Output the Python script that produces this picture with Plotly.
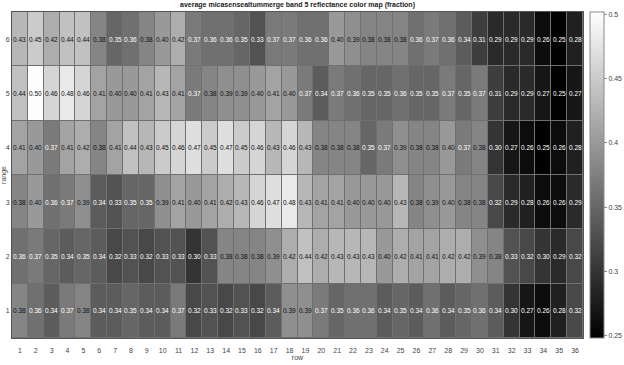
import plotly.graph_objects as go

cols = list(range(1, 37))
ranges = [1, 2, 3, 4, 5, 6]

range1 = [0.38, 0.36, 0.34, 0.37, 0.38, 0.34, 0.34, 0.35, 0.34, 0.34, 0.37, 0.32, 0.33, 0.32, 0.33, 0.32, 0.34, 0.39,
          0.39, 0.37, 0.35, 0.36, 0.36, 0.34, 0.35, 0.34, 0.36, 0.34, 0.35, 0.36, 0.34, 0.30, 0.27, 0.26, 0.28, 0.32]
range2 = [0.36, 0.37, 0.35, 0.34, 0.35, 0.34, 0.32, 0.33, 0.32, 0.33, 0.33, 0.30, 0.33, 0.38, 0.38, 0.38, 0.39, 0.42,
          0.44, 0.42, 0.43, 0.43, 0.43, 0.40, 0.42, 0.41, 0.41, 0.42, 0.42, 0.39, 0.38, 0.33, 0.32, 0.30, 0.29, 0.32]
range3 = [0.38, 0.40, 0.36, 0.37, 0.39, 0.34, 0.33, 0.35, 0.35, 0.39, 0.41, 0.40, 0.41, 0.42, 0.43, 0.46, 0.47, 0.48,
          0.43, 0.41, 0.41, 0.40, 0.40, 0.40, 0.43, 0.38, 0.39, 0.40, 0.38, 0.38, 0.32, 0.29, 0.28, 0.26, 0.26, 0.29]
range4 = [0.41, 0.40, 0.37, 0.41, 0.42, 0.38, 0.41, 0.44, 0.43, 0.45, 0.46, 0.47, 0.45, 0.47, 0.45, 0.46, 0.43, 0.46,
          0.43, 0.38, 0.38, 0.38, 0.35, 0.37, 0.39, 0.38, 0.38, 0.40, 0.37, 0.38, 0.30, 0.27, 0.26, 0.25, 0.26, 0.28]
range5 = [0.44, 0.50, 0.46, 0.48, 0.46, 0.41, 0.40, 0.40, 0.41, 0.43, 0.41, 0.37, 0.38, 0.39, 0.39, 0.40, 0.41, 0.40,
          0.37, 0.34, 0.37, 0.36, 0.35, 0.35, 0.36, 0.35, 0.35, 0.37, 0.35, 0.37, 0.31, 0.29, 0.29, 0.27, 0.25, 0.27]
range6 = [0.43, 0.45, 0.42, 0.44, 0.44, 0.38, 0.35, 0.36, 0.38, 0.40, 0.42, 0.37, 0.36, 0.36, 0.35, 0.33, 0.37, 0.37,
          0.36, 0.36, 0.40, 0.39, 0.38, 0.38, 0.38, 0.36, 0.37, 0.36, 0.34, 0.31, 0.29, 0.29, 0.29, 0.26, 0.25, 0.28]

z = [range1, range2, range3, range4, range5, range6]
cbar_ticks = [0.25, 0.3, 0.35, 0.4, 0.45, 0.5]
cbar_ticktext = ["0.25", "0.3", "0.35", "0.4", "0.45", "0.5"]

FONT = "Liberation Sans, Arial, sans-serif"

fig = go.Figure(go.Heatmap(
    x=cols, y=ranges, z=z,
    colorscale=[[0, "#000000"], [1, "#ffffff"]],
    zmin=0.248, zmax=0.502,
    xgap=1, ygap=1,
    hoverinfo="x+y+z",
    colorbar=dict(
        x=1.0123, xanchor="left", xref="paper",
        y=0.5, yanchor="middle", len=1.0, lenmode="fraction",
        thickness=14, thicknessmode="pixels",
        outlinecolor="#8a8a8a", outlinewidth=1,
        tickvals=cbar_ticks, ticktext=cbar_ticktext,
        ticks="outside", ticklen=3, tickcolor="#8a8a8a",
        tickfont=dict(family=FONT, size=7, color="#444444"),
        xpad=0, ypad=0,
    ),
))

annotations = []
for yi, row in zip(ranges, z):
    for xi, v in zip(cols, row):
        annotations.append(dict(
            x=xi, y=yi, xref="x", yref="y", text=f"{v:.2f}", showarrow=False,
            font=dict(family=FONT, size=6.5, color="#ffffff" if v < 0.375 else "#111111"),
        ))

fig.update_layout(
    width=624, height=365,
    margin=dict(l=12, r=41, t=12, b=27, autoexpand=False),
    paper_bgcolor="white", plot_bgcolor="#707070",
    annotations=annotations,
    title=dict(text="<b>average micasensealtummerge band 5 reflectance color map (fraction)</b>",
               x=0.5, xref="paper", xanchor="center", y=0.995, yref="container", yanchor="top", pad=dict(t=0),
               font=dict(family=FONT, size=7, color="#222222")),
    font=dict(family=FONT, size=7, color="#444444"),
)
fig.update_xaxes(
    automargin=False,
    tickmode="array", tickvals=cols, ticks="", showgrid=False, zeroline=False,
    showline=True, linecolor="#555555", linewidth=1, mirror=True,
    tickfont=dict(size=7, color="#444444"), ticklabelstandoff=6,
    title=dict(text="row", font=dict(size=7, color="#444444"), standoff=0),
    range=[0.5, 36.5],
)
fig.update_yaxes(
    automargin=False,
    tickmode="array", tickvals=ranges, ticks="", showgrid=False, zeroline=False,
    showline=True, linecolor="#555555", linewidth=1, mirror=True,
    tickfont=dict(size=7, color="#444444"),
    title=dict(text="range", font=dict(size=7, color="#444444"), standoff=4),
    range=[0.5, 6.5],
)

fig.write_html("out.html")
